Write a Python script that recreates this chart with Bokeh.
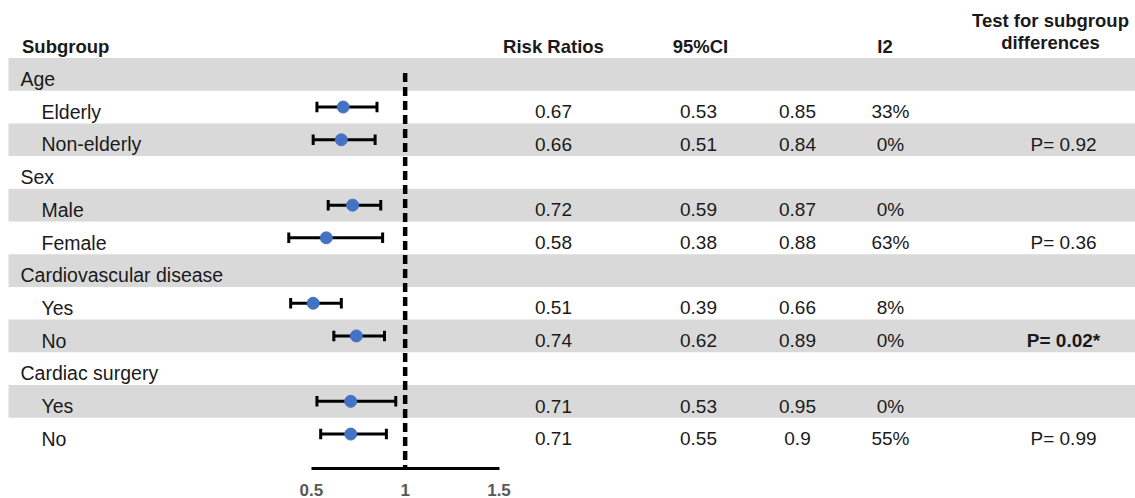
from bokeh.plotting import figure
from bokeh.models import (ColumnDataSource, Range1d, LinearAxis, FixedTicker,
                          NumeralTickFormatter)
from bokeh.core.properties import value
from bokeh.embed import file_html
from bokeh.resources import INLINE

# ---------------- data ----------------
labels = ["Age", "Elderly", "Non-elderly", "Sex", "Male", "Female",
          "Cardiovascular disease", "Yes", "No", "Cardiac surgery", "Yes", "No"]
is_group = [True, False, False, True, False, False,
            True, False, False, True, False, False]
rr    = [None, 0.67, 0.66, None, 0.72, 0.58, None, 0.51, 0.74, None, 0.71, 0.71]
lower = [None, 0.53, 0.51, None, 0.59, 0.38, None, 0.39, 0.62, None, 0.53, 0.55]
upper = [None, 0.85, 0.84, None, 0.87, 0.88, None, 0.66, 0.89, None, 0.95, 0.90]
i2    = [None, "33%", "0%", None, "0%", "63%", None, "8%", "0%", None, "0%", "55%"]
p_diff = [None, None, "P= 0.92", None, None, "P= 0.36", None, None, "P= 0.02*",
          None, None, "P= 0.99"]
p_significant = [False, False, False, False, False, False, False, False, True,
                 False, False, False]
headers = ["Subgroup", "Risk Ratios", "95%CI", "I2"]
test_header = ["Test for subgroup", "differences"]
axis_ticks = [0.5, 1, 1.5]
null_value = 1.0

# ---------------- layout constants (pixels) ----------------
W = 1135
FRAME_H = 468
ROW0_PX = 73.85       # centre of first row, from frame top
ROW_PX = 32.7         # row pitch
AX_PX0 = 310.8        # frame x of RR = 0.5
PX_PER_UNIT = 187.7
TXT_DY = 4.7          # text sits a little below row centre
BAND_X0 = 8

FONT = value("Liberation Sans")
TXT_COL = "#1a1a1a"
GRAY = "#d9d9d9"

y_top = -ROW0_PX / ROW_PX
y_bot = (FRAME_H - ROW0_PX) / ROW_PX
rr_start = 0.5 - AX_PX0 / PX_PER_UNIT
rr_end = rr_start + W / PX_PER_UNIT

p = figure(frame_width=W, frame_height=FRAME_H, output_backend="svg",
           toolbar_location=None, x_axis_type=None, y_axis_type=None,
           x_range=Range1d(0, W), y_range=Range1d(y_bot, y_top),
           min_border_left=0, min_border_right=0, min_border_top=0,
           min_border_bottom=0)
p.outline_line_color = None
p.background_fill_color = "white"
p.border_fill_color = "white"
p.extra_x_ranges = {"rr": Range1d(rr_start, rr_end)}

rows = list(range(len(labels)))

# alternating gray bands
band_rows = [i for i in rows if i % 2 == 0]
p.quad(left=BAND_X0, right=W, bottom=[i + 0.5 for i in band_rows],
       top=[i - 0.5 for i in band_rows], fill_color=GRAY, line_color=None)

# subgroup labels
lab_src = ColumnDataSource(dict(
    x=[20 if g else 41 for g in is_group], y=rows, t=labels))
p.text(x="x", y="y", text="t", source=lab_src, text_font=FONT,
       text_font_size="19.5px", text_color=TXT_COL, text_baseline="middle",
       text_align="left", y_offset=TXT_DY)

# headers
hdr_src = ColumnDataSource(dict(x=[21.5, 553, 700, 884.5], y=[-1] * 4, t=headers,
                                a=["left", "center", "center", "center"]))
p.text(x="x", y="y", text="t", source=hdr_src, text_font=FONT,
       text_font_size="18.5px", text_font_style="bold", text_color=TXT_COL,
       text_baseline="middle", text_align="a", y_offset=TXT_DY)
th_src = ColumnDataSource(dict(x=[1050, 1050], y=[-1, -1], t=test_header,
                               dy=[-20.8, 1.0]))
p.text(x="x", y="y", text="t", source=th_src, text_font=FONT,
       text_font_size="18.5px", text_font_style="bold", text_color=TXT_COL,
       text_baseline="middle", text_align="center", y_offset="dy")

# numeric columns
data_rows = [i for i in rows if rr[i] is not None]
num_src = ColumnDataSource(dict(
    y=data_rows,
    rr_t=[f"{rr[i]:g}" for i in data_rows],
    lo_t=[f"{lower[i]:g}" for i in data_rows],
    up_t=[f"{upper[i]:g}" for i in data_rows],
    i2_t=[i2[i] for i in data_rows],
))
for col, xpos in (("rr_t", 553), ("lo_t", 698), ("up_t", 797), ("i2_t", 890)):
    p.text(x=xpos, y="y", text=col, source=num_src, text_font=FONT,
           text_font_size="19px", text_color=TXT_COL, text_baseline="middle",
           text_align="center", y_offset=TXT_DY)

# subgroup difference test
pr = [i for i in rows if p_diff[i] is not None]
p_src = ColumnDataSource(dict(
    y=pr, t=[p_diff[i] for i in pr],
    s=["bold" if p_significant[i] else "normal" for i in pr]))
p.text(x=1063, y="y", text="t", source=p_src, text_font=FONT,
       text_font_size="19px", text_font_style="s", text_color=TXT_COL,
       text_baseline="middle", text_align="center", y_offset=TXT_DY)

# forest plot
f_src = ColumnDataSource(dict(
    y=data_rows, rr=[rr[i] for i in data_rows],
    lo=[lower[i] for i in data_rows], up=[upper[i] for i in data_rows],
    y0=[i - 0.16 for i in data_rows], y1=[i + 0.16 for i in data_rows]))
p.segment(x0=null_value, y0=-0.04, x1=null_value, y1=y_bot, x_range_name="rr",
          line_color="black", line_width=4.5, line_dash="9 5")
p.segment(x0="lo", y0="y", x1="up", y1="y", source=f_src, x_range_name="rr",
          line_color="black", line_width=3)
p.segment(x0="lo", y0="y0", x1="lo", y1="y1", source=f_src, x_range_name="rr",
          line_color="black", line_width=3)
p.segment(x0="up", y0="y0", x1="up", y1="y1", source=f_src, x_range_name="rr",
          line_color="black", line_width=3)
p.scatter(x="rr", y="y", source=f_src, x_range_name="rr", size=12,
          fill_color="#4472C4", line_color="#4472C4")

ax = LinearAxis(x_range_name="rr", ticker=FixedTicker(ticks=axis_ticks),
                formatter=NumeralTickFormatter(format="0.[0]"),
                bounds=(min(axis_ticks), max(axis_ticks)))
ax.axis_line_width = 3
ax.axis_line_color = "black"
ax.major_tick_line_color = None
ax.minor_tick_line_color = None
ax.major_label_standoff = 9
ax.major_label_text_font = "Liberation Sans"
ax.major_label_text_font_size = "17px"
ax.major_label_text_font_style = "bold"
ax.major_label_text_color = "#595959"
p.add_layout(ax, "below")

open("out.html", "w").write(file_html(p, INLINE))
